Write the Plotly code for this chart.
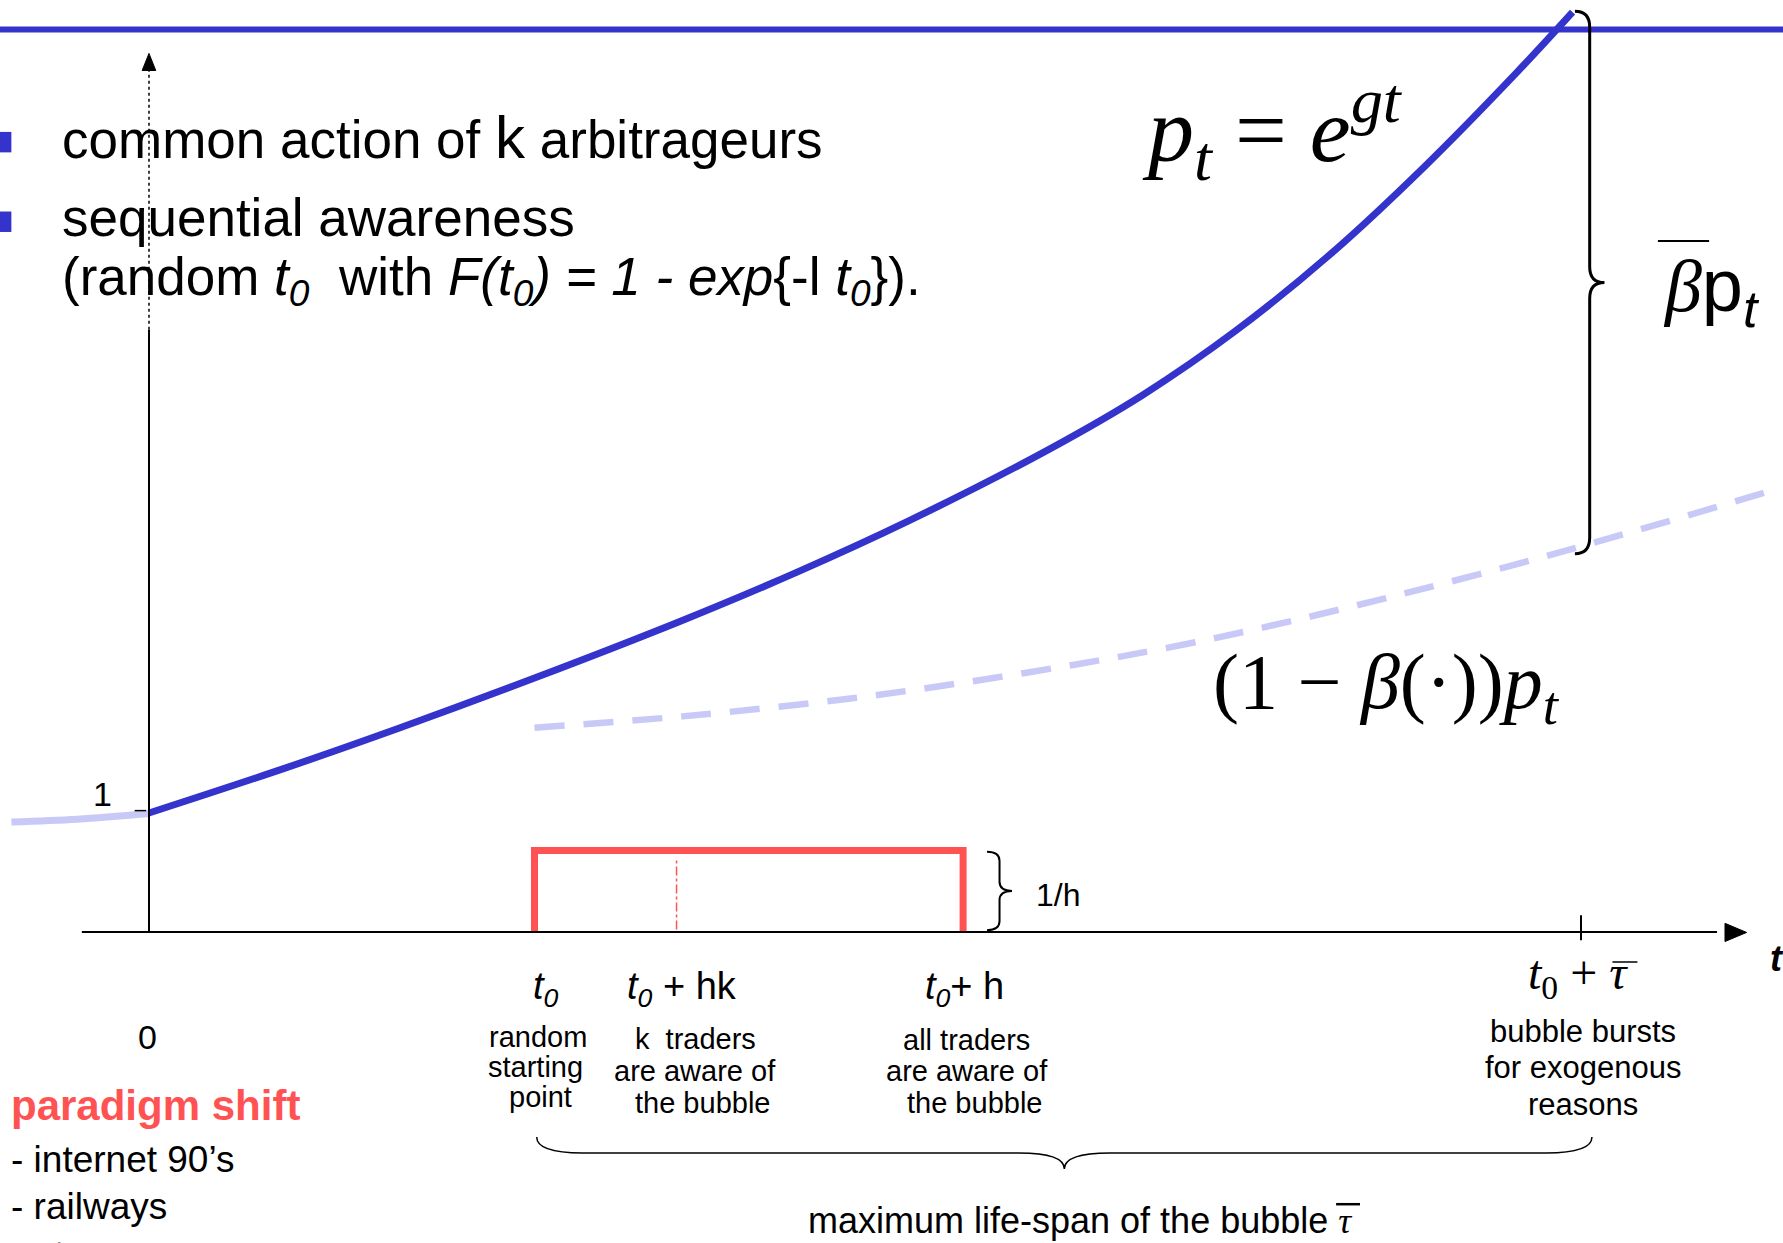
import plotly.graph_objects as go

# ---------------- data (time t, price p) ----------------
t_curve = [0.0, 0.945, 1.739, 2.692, 3.724, 4.518, 5.312, 6.288, 6.940, 7.591, 8.250, 8.901, 9.552, 9.941]
p_curve = [1.000, 1.375, 1.710, 2.134, 2.618, 3.020, 3.459, 4.058, 4.513, 5.054, 5.696, 6.425, 7.224, 7.730]
t_pre = [-0.961, -0.5, 0.0]
p_pre = [0.925, 0.948, 0.995]
t_lower = [2.692, 3.724, 4.915, 6.106, 7.297, 8.575, 9.957, 11.315]
p_lower = [1.717, 1.812, 1.965, 2.175, 2.433, 2.787, 3.226, 3.704]
p_top = 7.583          # level of horizontal line
t0, t0_hk, t0_h, t0_tau = 2.692, 3.684, 5.685, 10.0
density = 0.684        # height of uniform density 1/h

# ---------------- canvas calibration ----------------
W, H = 1783, 1243
S = W / 1568.0          # reading scale
X0, Y0 = 149.0, 932.0   # pixel of t=0, p=0
KT, KP = 143.2, 119.0   # px per unit
t_rng = [(0 - X0) / KT, (W - X0) / KT]
p_rng = [(Y0 - H) / KP, Y0 / KP]

def px(x):  # shrunk-picture x -> paper
    return x * S / W

def py(y):  # shrunk-picture y -> paper
    return 1 - y * S / H

BLUE = "#3434CC"
LIGHT = "#C9C9F7"
RED = "#FF5252"
SANS = "Liberation Sans, Arial, sans-serif"
SERIF = "Liberation Serif, DejaVu Serif, serif"

fig = go.Figure()
fig.add_trace(go.Scatter(x=[t_rng[0], t_rng[1]], y=[p_top, p_top], mode="lines",
                         line=dict(color=BLUE, width=6), hoverinfo="skip"))
fig.add_trace(go.Scatter(x=t_pre, y=p_pre, mode="lines", line=dict(color=LIGHT, width=7, shape="spline"),
                         hoverinfo="skip"))
fig.add_trace(go.Scatter(x=t_lower, y=p_lower, mode="lines",
                         line=dict(color=LIGHT, width=6.5, dash="30px,19px", shape="spline"), hoverinfo="skip"))
fig.add_trace(go.Scatter(x=t_curve, y=p_curve, mode="lines", line=dict(color=BLUE, width=7, shape="spline"),
                         hoverinfo="skip"))
fig.add_trace(go.Scatter(x=[t0, t0, t0_h, t0_h], y=[0, density, density, 0], mode="lines",
                         line=dict(color=RED, width=7), hoverinfo="skip"))
fig.add_trace(go.Scatter(x=[t0_hk, t0_hk], y=[0.02, density - 0.06], mode="lines",
                         line=dict(color=RED, width=1.5, dash="dashdot"), hoverinfo="skip"))

shapes = []
# axes
shapes.append(dict(type="line", xref="x", yref="y", x0=-0.469, x1=10.95, y0=0, y1=0,
                   line=dict(color="black", width=2)))
shapes.append(dict(type="line", xref="x", yref="y", x0=0, x1=0, y0=0, y1=5.06,
                   line=dict(color="black", width=2)))
shapes.append(dict(type="line", xref="x", yref="y", x0=0, x1=0, y0=5.06, y1=7.25,
                   line=dict(color="black", width=1.5, dash="dot")))
shapes.append(dict(type="line", xref="x", yref="y", x0=t0_tau, x1=t0_tau, y0=-0.07, y1=0.14,
                   line=dict(color="black", width=2)))
shapes.append(dict(type="line", xref="x", yref="y", x0=-0.1, x1=-0.02, y0=1.02, y1=1.02,
                   line=dict(color="black", width=1.5)))

def P(x, y):
    return f"{px(x):.5f},{py(y):.5f}"

def hline(x1, x2, y, w=2):
    shapes.append(dict(type="line", xref="paper", yref="paper", x0=px(x1), x1=px(x2), y0=py(y), y1=py(y),
                       line=dict(color="black", width=w)))

# arrowheads
shapes.append(dict(type="path", xref="paper", yref="paper",
                   path=f"M {P(131,47)} L {P(125,62)} L {P(137,62)} Z",
                   fillcolor="black", line=dict(color="black", width=1)))
shapes.append(dict(type="path", xref="paper", yref="paper",
                   path=f"M {P(1536,820)} L {P(1517,812)} L {P(1517,828)} Z",
                   fillcolor="black", line=dict(color="black", width=1)))

# bullets
for (y0b, y1b) in ((116, 134), (186, 204)):
    shapes.append(dict(type="rect", xref="paper", yref="paper", x0=px(0), x1=px(10),
                       y0=py(y0b), y1=py(y1b), fillcolor=BLUE, line=dict(width=0)))

def vbrace(x, y1, y2, w, r):
    ym = (y1 + y2) / 2
    b = x + w / 2
    return (f"M {P(x,y1)} Q {P(b,y1)} {P(b,y1+r)} L {P(b,ym-r)} Q {P(b,ym)} {P(x+w,ym)} "
            f"Q {P(b,ym)} {P(b,ym+r)} L {P(b,y2-r)} Q {P(b,y2)} {P(x,y2)}")

def hbrace(x1, x2, y, h, r, xm):
    b = y + h / 2
    return (f"M {P(x1,y)} Q {P(x1,b)} {P(x1+r,b)} L {P(xm-r,b)} Q {P(xm,b)} {P(xm,y+h)} "
            f"Q {P(xm,b)} {P(xm+r,b)} L {P(x2-r,b)} Q {P(x2,b)} {P(x2,y)}")

shapes.append(dict(type="path", xref="paper", yref="paper", path=vbrace(1385, 10, 487, 26, 14),
                   line=dict(color="black", width=3)))
shapes.append(dict(type="path", xref="paper", yref="paper", path=vbrace(868, 749, 818, 22, 8),
                   line=dict(color="black", width=2)))
shapes.append(dict(type="path", xref="paper", yref="paper", path=hbrace(472, 1400, 1000, 28, 40, 936),
                   line=dict(color="black", width=1.5)))

# overlines for beta-bar and tau-bar
hline(1458, 1503, 212, 2)
hline(1418, 1440, 846, 1.5)
hline(1175, 1196, 1059, 2.5)

ann = []

def T(x, y, text, size, font=SANS, color="black", xa="center", ya="middle"):
    ann.append(dict(x=px(x), y=py(y), xref="paper", yref="paper", text=text, showarrow=False,
                    xanchor=xa, yanchor=ya, font=dict(family=font, size=size, color=color)))

T(53, 121, "common action of <span style='font-size:60px'>k</span> arbitrageurs", 53, xa="left")
T(53, 191, "sequential awareness", 53, xa="left")
T(53, 247, "(random <i>t</i><sub><i>0</i></sub>  with <i>F(t</i><sub><i>0</i></sub><i>) = 1 - exp</i>"
           "{-l <i>t</i><sub><i>0</i></sub>}).", 53, xa="left")

T(1119, 114, "<i>p</i><sub><i>t</i></sub> = <i>e</i><sup><i>gt</i></sup>", 92, font=SERIF)
T(1505, 256, "<i>β</i><span style='font-family:Liberation Sans'>p<sub><i>t</i></sub></span>", 74, font=SERIF)
T(1219, 604, "(1 − <i>β</i>(·))<i>p</i><sub><i>t</i></sub>", 78, font=SERIF)

T(90, 698, "1", 34)
T(930, 787, "1/h", 32)
T(130, 912, "0", 34)
T(1563, 843, "<i><b>t</b></i>", 36)

T(480, 870, "<i>t</i><sub><i>0</i></sub>", 38)
T(600, 870, "<i>t</i><sub><i>0</i></sub> + hk", 38)
T(848, 870, "<i>t</i><sub><i>0</i></sub>+ h", 38)
T(1388, 858, "<i>t</i><sub>0</sub> + <i>τ</i>", 48, font=SERIF)

for (x, y, s) in [(473, 912, "random"), (471, 938, "starting"), (475, 965, "point"),
                  (612, 914, "k  traders"), (611, 942, "are aware of"), (618, 970, "the bubble"),
                  (850, 915, "all traders"), (850, 942, "are aware of"), (857, 970, "the bubble")]:
    T(x, y, s, 29)
for (x, y, s) in [(1392, 907, "bubble bursts"), (1392, 939, "for exogenous"), (1392, 971, "reasons")]:
    T(x, y, s, 31)

T(950, 1073, "maximum life-span of the bubble <span style='font-family:Liberation Serif'><i>τ</i></span>", 36)
T(8, 972, "<b>paradigm shift</b>", 42, color=RED, xa="left")
T(8, 1020, "- internet 90’s", 37, xa="left")
T(8, 1061, "- railways", 37, xa="left")
T(8, 1103, "- etc.", 37, xa="left")

fig.update_layout(
    width=W, height=H, margin=dict(l=0, r=0, t=0, b=0),
    paper_bgcolor="white", plot_bgcolor="white", showlegend=False,
    xaxis=dict(range=t_rng, visible=False, fixedrange=True),
    yaxis=dict(range=p_rng, visible=False, fixedrange=True),
    shapes=shapes, annotations=ann,
)
fig.write_html("out.html", config={"displayModeBar": False},
               post_script="document.body.style.margin='0';document.body.style.overflow='hidden';")
